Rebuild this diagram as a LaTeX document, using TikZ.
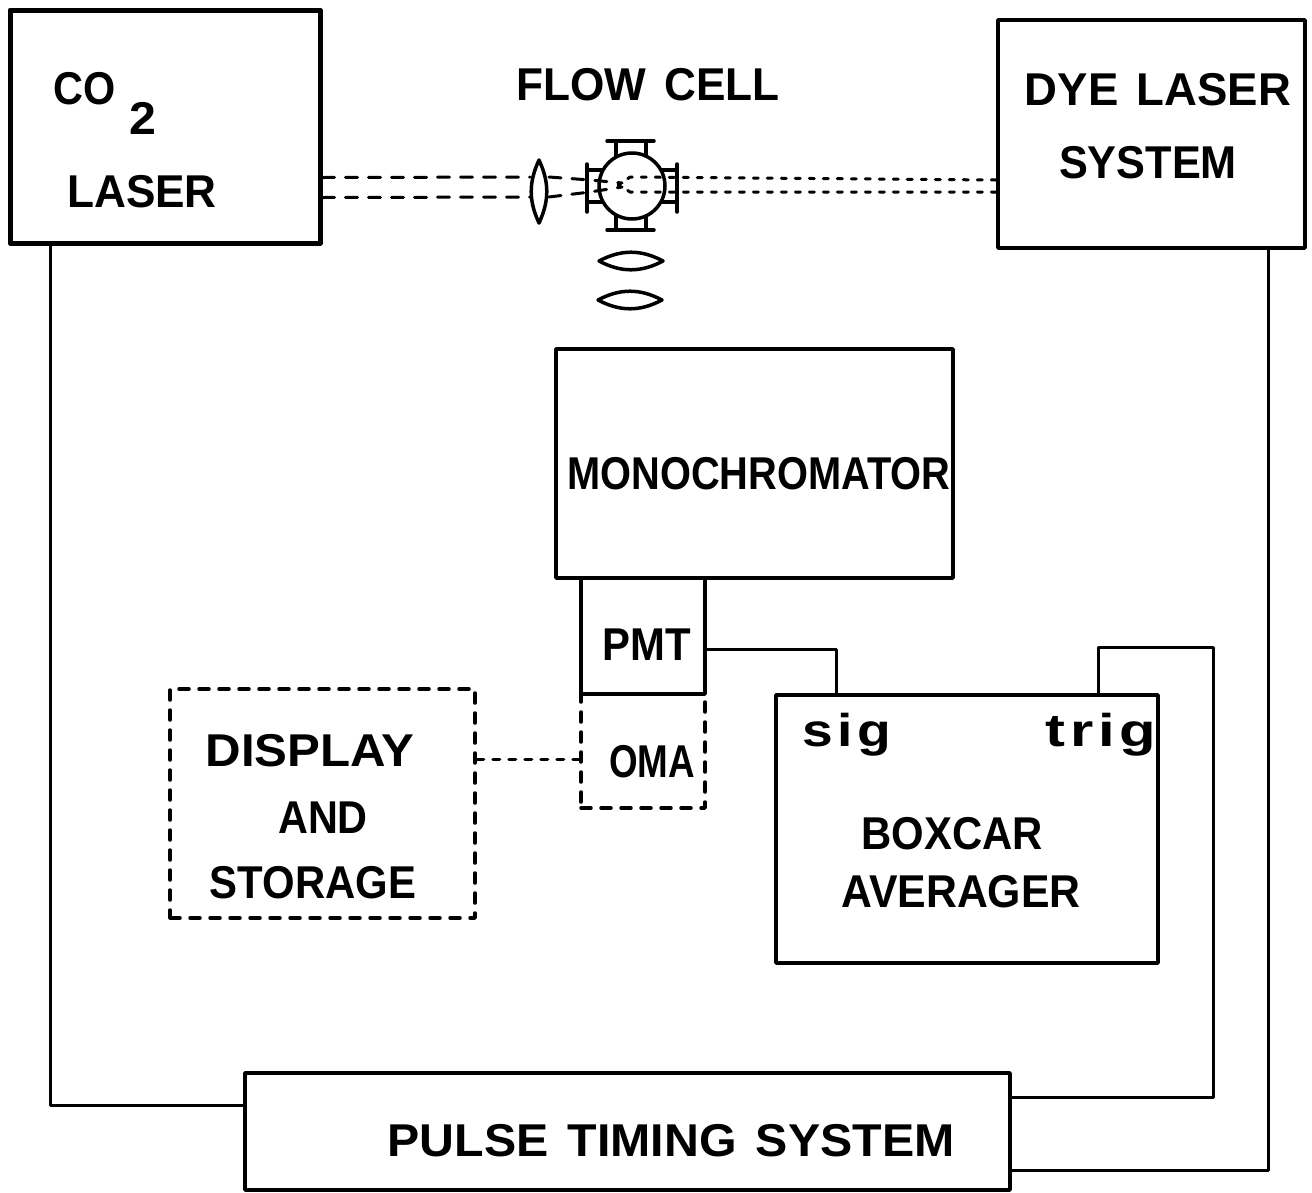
\documentclass[tikz,border=0pt]{standalone}
\usepackage{fontspec}
\setmainfont{Liberation Sans}
\begin{document}
\begin{tikzpicture}[x=1pt,y=-1pt,line join=round,line cap=round,
	box/.style={draw,line width=3.5pt,inner sep=0pt},
	dashbox/.style={draw,line width=3.5pt,inner sep=0pt,dash pattern=on 10pt off 10pt},
	wire/.style={line width=3pt},
	beam/.style={line width=3pt,dash pattern=on 12pt off 11pt},
	dyebeam/.style={line width=3pt,dash pattern=on 5pt off 9pt},
	optic/.style={line width=3.5pt},
	lbl/.style={font=\fontsize{46}{50}\selectfont\bfseries,inner sep=0pt}]
\useasboundingbox (0,0) rectangle (1312,1192);

\node (co2) at (165,126.5) [box,line width=5pt,minimum width=310pt,minimum height=233pt] {};
\node (dye) at (1151.5,134) [box,minimum width=307pt,minimum height=228pt] {};
\node (mono) at (754.5,463.5) [box,minimum width=397pt,minimum height=229pt] {};
\node (pmt) at (643,636) [box,minimum width=124pt,minimum height=116pt] {};
\node (oma) at (643,751) [dashbox,minimum width=124pt,minimum height=114pt] {};
\node (disp) at (322.5,803.5) [dashbox,minimum width=305pt,minimum height=229pt] {};
\node (boxcar) at (967,829) [box,minimum width=382pt,minimum height=268pt] {};
\node (pulse) at (627.5,1131.5) [box,minimum width=765pt,minimum height=117pt] {};

\node (co) at (85,89) [lbl,xscale=.9] {CO};
\node (two) at (143,118) [lbl,xscale=1.05] {2};
\node (laser) at (142,192) [lbl,xscale=.96] {LASER};
\node (flow) at (648,85) [lbl,xscale=.96] {FLOW\hspace{.12em} CELL};
\node (dyetxt) at (1158,90) [lbl,xscale=.99] {DYE\hspace{.12em} LASER};
\node (systxt) at (1148,163) [lbl,xscale=.94] {SYSTEM};
\node (monotxt) at (759,474) [lbl,xscale=.865] {MONOCHROMATOR};
\node (pmttxt) at (647,645) [lbl,xscale=.91] {PMT};
\node (omatxt) at (652,762) [lbl,xscale=.8] {OMA};
\node (disptxt) at (310,751) [lbl,xscale=1.07] {DISPLAY};
\node (andtxt) at (323,818) [lbl,xscale=.9] {AND};
\node (stortxt) at (313,883) [lbl,xscale=.91] {STORAGE};
\node (sig) at (847,735) [lbl,xscale=1.2] {s\hspace{.08em}i\hspace{.08em}g};
\node (trig) at (1101,735) [lbl,xscale=1.3] {t\hspace{.08em}r\hspace{.08em}i\hspace{.08em}g};
\node (boxtxt) at (952,834) [lbl,xscale=.91] {BOXCAR};
\node (avgtxt) at (961,892) [lbl,xscale=.93] {AVERAGER};
\node (pulsetxt) at (671,1141) [lbl,xscale=1.05] {PULSE\hspace{.12em} TIMING\hspace{.12em} SYSTEM};

% electrical connections
\draw[wire] ([xshift=-115pt]co2.south) |- ([yshift=26pt]pulse.west);
\draw[wire] ([xshift=116.5pt]dye.south) |- ([yshift=-39pt]pulse.east);
\draw[wire] ([yshift=34.5pt]pulse.east) -- ++(202,0) |- ([xshift=131pt,yshift=46pt]boxcar.north) -- ([xshift=131pt]boxcar.north);
\draw[wire] ([yshift=-13pt]pmt.east) -| ([xshift=-131pt]boxcar.north);
\draw[wire,dash pattern=on 7pt off 9pt] ([yshift=44.5pt]disp.east) -- ([yshift=-8pt]oma.west);

% flow cell
\coordinate (cell) at (632,186);
\draw[optic] (cell) circle (33);
\foreach \y/\ya in {141/156,230/216} {
	\draw[optic] (607,\y) -- (654,\y);
	\draw[optic] (616,\y) -- (616,\ya);
	\draw[optic] (646,\y) -- (646,\ya);
}
\foreach \x/\xa in {587/602,677/662} {
	\draw[optic] (\x,164) -- (\x,212);
	\draw[optic] (\x,170) -- (\xa,170);
	\draw[optic] (\x,202) -- (\xa,202);
}

% lenses
\coordinate (lensa) at (539,160);
\coordinate (lensb) at (539,223);
\coordinate (lensc) at (599,261);
\coordinate (lensd) at (663,261);
\coordinate (lense) at (598,300);
\coordinate (lensf) at (662,300);
\draw[optic] (lensa) to[bend left=25] (lensb) to[bend left=25] (lensa);
\draw[optic] (lensc) to[bend left=28] (lensd) to[bend left=28] (lensc);
\draw[optic] (lense) to[bend left=28] (lensf) to[bend left=28] (lense);

% beams
\draw[beam] ([yshift=-51pt]co2.east) -- (530,177);
\draw[beam] ([yshift=-71pt]co2.east) -- (530,197);
\draw[beam] (549,177) -- (590,180) -- (622,183);
\draw[beam] (549,197) -- (590,192) -- (622,187);
\draw[dyebeam] ([yshift=-46pt]dye.west) -- (630,177) -- (618,186);
\draw[dyebeam] ([yshift=-58pt]dye.west) -- (630,192) -- (618,184);
\end{tikzpicture}
\end{document}
